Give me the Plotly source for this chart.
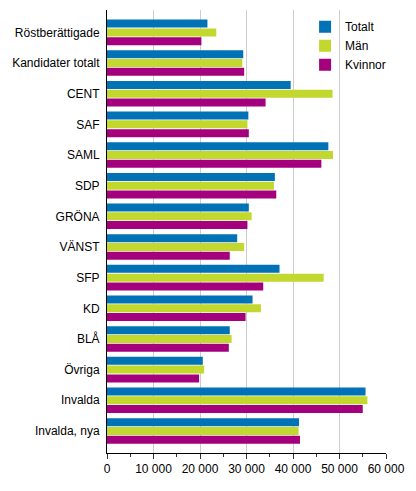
import plotly.graph_objects as go

# categories, top to bottom
categories = [
    "Röstberättigade", "Kandidater totalt", "CENT", "SAF", "SAML", "SDP",
    "GRÖNA", "VÄNST", "SFP", "KD", "BLÅ", "Övriga", "Invalda", "Invalda, nya",
]

totalt = [21600, 29300, 39500, 30400, 47600, 36100, 30500, 28000, 37100, 31300, 26400, 20600, 55600, 41300]
man = [23500, 29100, 48500, 30200, 48600, 35900, 31100, 29500, 46600, 33100, 26800, 20900, 56000, 41200]
kvinnor = [20300, 29500, 34100, 30500, 46100, 36400, 30200, 26400, 33600, 29800, 26200, 19800, 55000, 41500]

series = [
    ("Totalt", totalt, "#0072b5"),
    ("Män", man, "#c2d82e"),
    ("Kvinnor", kvinnor, "#a4007e"),
]

font = "Liberation Sans, Arial, sans-serif"


def main():
    fig = go.Figure()
    for name, vals, col in series:
        fig.add_trace(go.Bar(
            y=categories, x=vals, name=name, orientation="h",
            marker=dict(color=col, line=dict(width=0)),
        ))

    # page body adds 8px offset, so the figure is 8px smaller
    fig.update_layout(
        width=408, height=483,
        margin=dict(l=99, r=30, t=2, b=38),
        paper_bgcolor="white", plot_bgcolor="white",
        font=dict(family=font, size=12, color="#000"),
        barmode="group", bargap=0.14, bargroupgap=0.09,
        separators=", ",
        showlegend=True,
        legend=dict(x=0.71, y=0.995, xanchor="left", yanchor="top",
                    bgcolor="rgba(0,0,0,0)", font=dict(size=12),
                    itemwidth=30, tracegroupgap=0),
        xaxis=dict(
            range=[0, 60000], dtick=10000, tickformat=",d",
            showgrid=True, gridcolor="#cccccc", gridwidth=1,
            showline=True, linecolor="#000", linewidth=1,
            ticks="outside", ticklen=5, tickcolor="#333",
            minor=dict(dtick=5000, ticks="outside", ticklen=3, tickcolor="#333", showgrid=False),
            zeroline=False, fixedrange=True, automargin=False,
        ),
        yaxis=dict(
            categoryorder="array", categoryarray=categories,
            range=[13.72, -0.73],
            showline=True, linecolor="#000", linewidth=1,
            ticks="", ticklabelstandoff=4, showgrid=False, fixedrange=True,
            automargin=False,
        ),
    )
    fig.write_html("out.html")


if __name__ == '__main__':
    main()
